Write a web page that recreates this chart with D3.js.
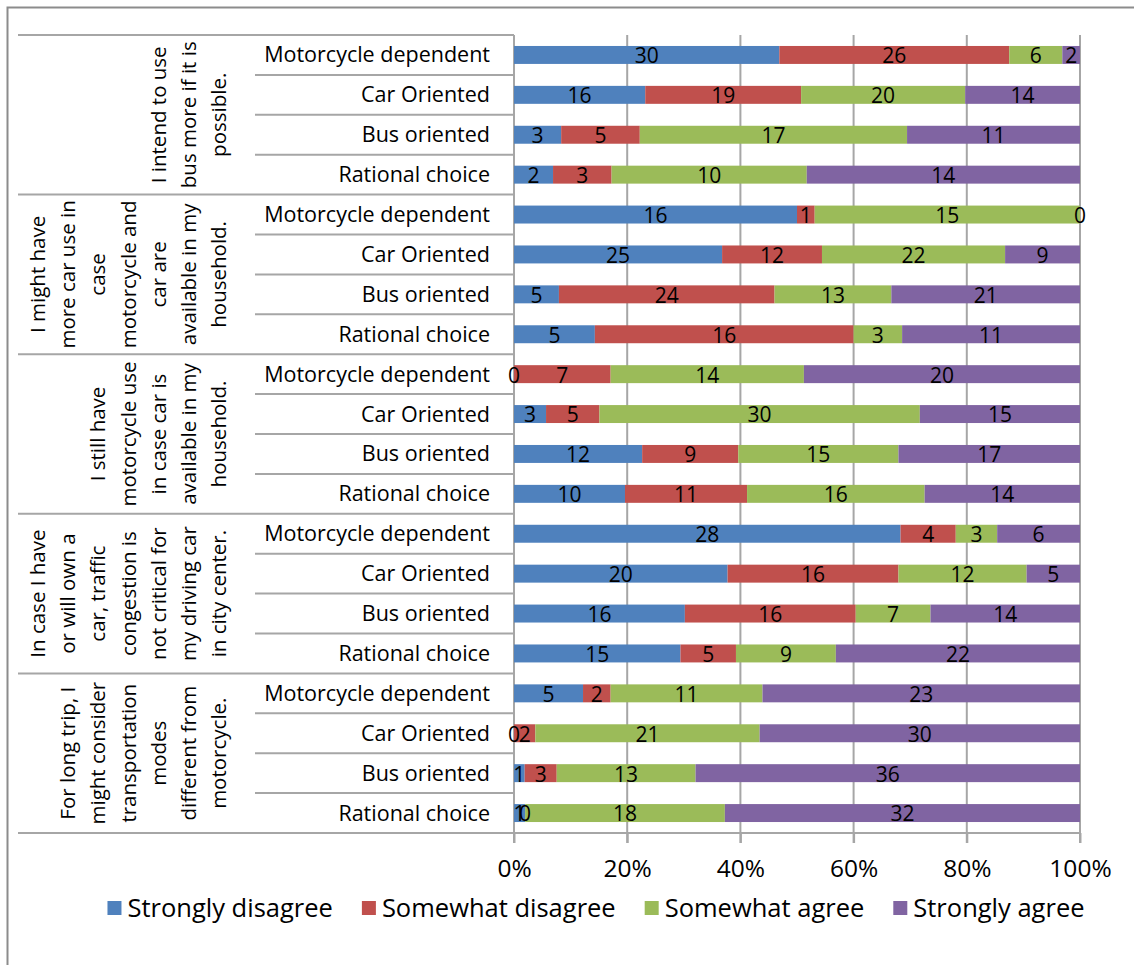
<!DOCTYPE html>
<html>
<head>
<meta charset="utf-8">
<script src="https://cdn.jsdelivr.net/npm/d3@7"></script>
<style>
  body { margin: 0; background: #fff; }
  text { font-family: "Open Sans", sans-serif; fill: #000; }
</style>
</head>
<body>
<div class="container"></div>
<script>
// statements (group labels, already wrapped like the original)
const statements = [
  ["I intend to use", "bus more if it is", "possible."],
  ["I might have", "more car use in", "case", "motorcycle and", "car are", "available in my", "household."],
  ["I still have", "motorcycle use", "in case car is", "available in my", "household."],
  ["In case I have", "or will own a", "car, traffic", "congestion is", "not critical for", "my driving car", "in city center."],
  ["For long trip, I", "might consider", "transportation", "modes", "different from", "motorcycle."]
];
const segments = ["Motorcycle dependent", "Car Oriented", "Bus oriented", "Rational choice"];
const answers = ["Strongly disagree", "Somewhat disagree", "Somewhat agree", "Strongly agree"];

// counts per row, 4 segments per statement
const stronglyDisagree = [30, 16, 3, 2,  16, 25, 5, 5,   0, 3, 12, 10,  28, 20, 16, 15,  5, 0, 1, 1];
const somewhatDisagree = [26, 19, 5, 3,  1, 12, 24, 16,  7, 5, 9, 11,   4, 16, 16, 5,    2, 2, 3, 0];
const somewhatAgree    = [6, 20, 17, 10, 15, 22, 13, 3,  14, 30, 15, 16, 3, 12, 7, 9,    11, 21, 13, 18];
const stronglyAgree    = [2, 14, 11, 14, 0, 9, 21, 11,   20, 15, 17, 14, 6, 5, 14, 22,   23, 30, 36, 32];

const ticks = [0, 0.2, 0.4, 0.6, 0.8, 1];
const colors = ["#4f81bd", "#c0504d", "#9bbb59", "#8064a2"];

const W = 1134, H = 965;
const plot = {left: 514, right: 1080, top: 35, bottom: 833};

const rows = d3.range(stronglyDisagree.length).map(i => ({
  idx: i,
  segment: segments[i % 4],
  [answers[0]]: stronglyDisagree[i],
  [answers[1]]: somewhatDisagree[i],
  [answers[2]]: somewhatAgree[i],
  [answers[3]]: stronglyAgree[i]
}));

const svg = d3.select(".container").append("svg")
  .attr("width", W)
  .attr("height", H);

// chart frame
svg.append("rect")
  .attr("x", 7.5).attr("y", 7.5)
  .attr("width", W + 20).attr("height", H + 20)
  .attr("fill", "none").attr("stroke", "#8c8c8c").attr("stroke-width", 2);

const x = d3.scaleLinear().domain([0, 1]).range([plot.left, plot.right]);
const y = d3.scaleBand().domain(rows.map(d => d.idx))
  .range([plot.top, plot.bottom])
  .paddingInner(0.55).paddingOuter(0.275);
const color = d3.scaleOrdinal().domain(answers).range(colors);

const lineCol = "#a6a6a6";

// vertical gridlines (with tick below the axis)
svg.append("g").selectAll("line")
  .data(ticks)
  .join("line")
  .attr("x1", d => x(d)).attr("x2", d => x(d))
  .attr("y1", plot.top).attr("y2", plot.bottom + 10)
  .attr("stroke", lineCol).attr("stroke-width", 2);

// x axis
const xAxis = svg.append("g")
  .attr("transform", `translate(0,${plot.bottom})`)
  .call(d3.axisBottom(x).tickValues(ticks).tickFormat(d3.format(".0%")).tickSize(10).tickSizeOuter(0));
xAxis.select(".domain").remove();
xAxis.selectAll(".tick line").attr("stroke", lineCol).attr("stroke-width", 2);
xAxis.selectAll(".tick text")
  .attr("y", 35)
  .attr("dy", "0.35em")
  .attr("font-size", "24.5px")
  .style("font-family", "'Open Sans', sans-serif");

// category axis lines
const step = y.step();
const boundaries = d3.range(rows.length + 1);
svg.append("g").selectAll("line")
  .data(boundaries)
  .join("line")
  .attr("x1", d => d % 4 === 0 ? 18 : 255)
  .attr("x2", d => d === rows.length ? plot.right : plot.left)
  .attr("y1", d => plot.top + d * step)
  .attr("y2", d => plot.top + d * step)
  .attr("stroke", lineCol).attr("stroke-width", 2);

svg.append("line")
  .attr("x1", plot.left).attr("x2", plot.left)
  .attr("y1", plot.top).attr("y2", plot.bottom + 10)
  .attr("stroke", lineCol).attr("stroke-width", 2);

// segment labels
svg.append("g").selectAll("text")
  .data(rows)
  .join("text")
  .attr("x", 490)
  .attr("y", d => y(d.idx) + y.bandwidth() / 2)
  .attr("dy", "0.35em")
  .attr("text-anchor", "end")
  .attr("font-size", "21.5px")
  .text(d => d.segment);

// statement labels, rotated
statements.forEach((lines, g) => {
  const cy = plot.top + (g * 4 + 2) * step;
  svg.append("g").selectAll("text")
    .data(lines)
    .join("text")
    .attr("transform", (d, j) => `translate(${219 - (lines.length - 1 - j) * 30.2},${cy}) rotate(-90)`)
    .attr("text-anchor", "middle")
    .attr("dy", "0.35em")
    .attr("font-size", "20.5px")
    .text(d => d);
});

// stacked 100% bars
const series = d3.stack().keys(answers).offset(d3.stackOffsetExpand)(rows);

const layers = svg.append("g").selectAll("g")
  .data(series)
  .join("g")
  .attr("fill", d => color(d.key));

layers.selectAll("rect")
  .data(d => d)
  .join("rect")
  .attr("x", d => x(d[0]))
  .attr("y", d => y(d.data.idx))
  .attr("width", d => x(d[1]) - x(d[0]))
  .attr("height", y.bandwidth());

// value labels
const labels = svg.append("g");
series.forEach(s => {
  labels.selectAll(null)
    .data(s)
    .join("text")
    .attr("x", d => x((d[0] + d[1]) / 2))
    .attr("y", d => y(d.data.idx) + y.bandwidth() / 2 + 1)
    .attr("dy", "0.35em")
    .attr("text-anchor", "middle")
    .attr("font-size", "21px")
    .text(d => d.data[s.key]);
});

// legend
const legend = svg.append("g").attr("transform", "translate(0,908)");
const items = legend.selectAll("g")
  .data(answers)
  .join("g");
items.append("rect")
  .attr("y", -7).attr("width", 14).attr("height", 14)
  .attr("fill", d => color(d));
items.append("text")
  .attr("x", 20)
  .attr("dy", "0.35em")
  .attr("font-size", "25.5px")
  .text(d => d);

let widths = [];
items.each(function() {
  widths.push(20 + d3.select(this).select("text").node().getComputedTextLength());
});
const gap = 29;
const total = d3.sum(widths) + gap * (widths.length - 1);
let cursor = 596 - total / 2;
items.attr("transform", (d, i) => {
  const t = `translate(${cursor},0)`;
  cursor += widths[i] + gap;
  return t;
});
</script>
</body>
</html>
